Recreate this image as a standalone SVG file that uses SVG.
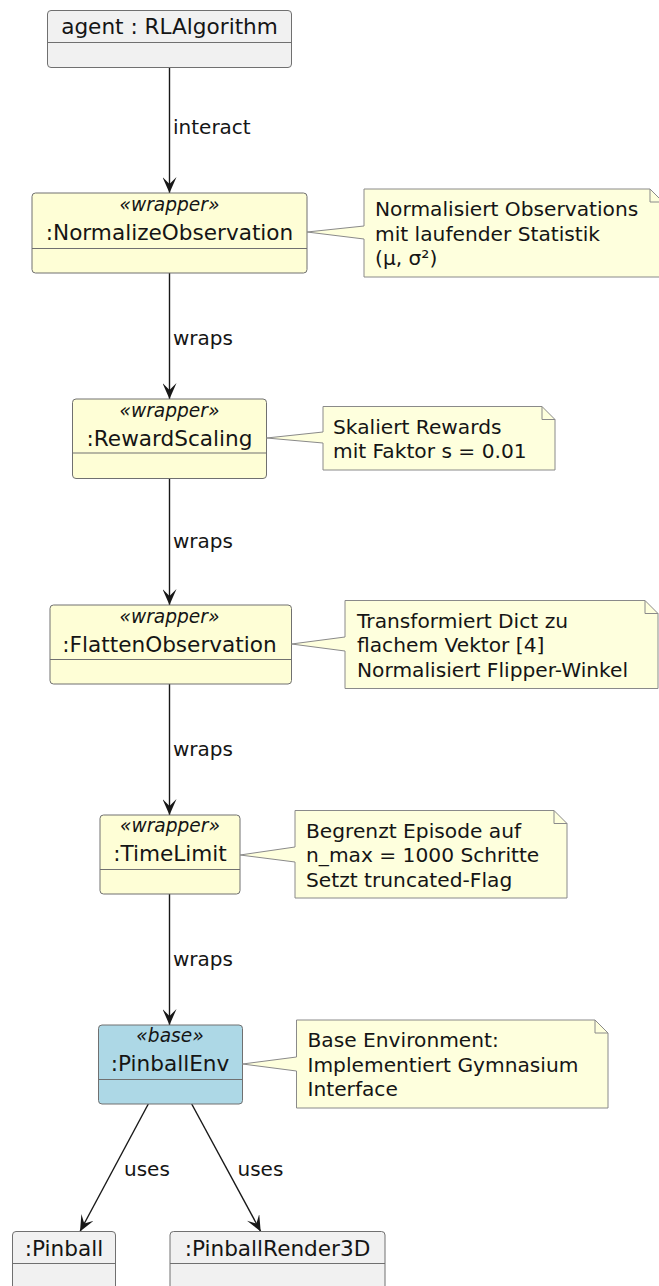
<svg xmlns="http://www.w3.org/2000/svg" width="659" height="1286" viewBox="0 0 659 1286">
  <style>
    .box{stroke:#707070;stroke-width:1}
    .gray{fill:#F1F1F1}
    .wrap{fill:#FEFED6}
    .base{fill:#ADD8E6}
    .sep{stroke:#707070;stroke-width:1;fill:none}
    .note{fill:#FEFFDD;stroke:#8a8a8a;stroke-width:1}
    .fold{fill:none;stroke:#8a8a8a;stroke-width:1}
    text{font-family:"DejaVu Sans","Liberation Sans",sans-serif;fill:#151515}
    .nm{font-size:21.6px;text-anchor:middle}
    .st{font-size:18.6px;font-style:italic;text-anchor:middle}
    .nt{font-size:20.2px}
    .lb{font-size:20px}
    .edge{stroke:#181818;stroke-width:1.4;fill:none}
  </style>
  <defs>
    <marker id="head" markerUnits="userSpaceOnUse" viewBox="0 0 16 14" refX="16" refY="7" markerWidth="16" markerHeight="14" orient="auto">
      <path d="M16,7 L0,0 L7,7 L0,14 Z" fill="#181818"/>
    </marker>
  </defs>

  <!-- connectors -->
  <g id="edges">
    <path class="edge" d="M169.5,67.5 V193" marker-end="url(#head)"/>
    <text class="lb" x="173" y="133.5">interact</text>
    <path class="edge" d="M169.5,273 V399" marker-end="url(#head)"/>
    <text class="lb" x="173" y="344.5">wraps</text>
    <path class="edge" d="M169.5,478.5 V605" marker-end="url(#head)"/>
    <text class="lb" x="173" y="547.5">wraps</text>
    <path class="edge" d="M169.5,684 V815" marker-end="url(#head)"/>
    <text class="lb" x="173" y="755.5">wraps</text>
    <path class="edge" d="M169.5,894 V1025" marker-end="url(#head)"/>
    <text class="lb" x="173" y="965.5">wraps</text>
    <path class="edge" d="M148.3,1104 L80,1231.5" marker-end="url(#head)"/>
    <text class="lb" x="124" y="1176">uses</text>
    <path class="edge" d="M191.7,1104 L260.7,1231.5" marker-end="url(#head)"/>
    <text class="lb" x="237.5" y="1176">uses</text>
  </g>

  <!-- objects -->
  <g id="agent">
    <rect class="box gray" x="47.5" y="10.5" width="244" height="57" rx="3.5"/>
    <path class="sep" d="M47.5,42.5 H291.5"/>
    <text class="nm" x="169.5" y="34">agent : RLAlgorithm</text>
  </g>

  <g id="normalizeObservation">
    <rect class="box wrap" x="32" y="193" width="275" height="80" rx="3.5"/>
    <path class="sep" d="M32,248.5 H307"/>
    <text class="st" x="169.5" y="211">«wrapper»</text>
    <text class="nm" x="169.5" y="240">:NormalizeObservation</text>
  </g>

  <g id="rewardScaling">
    <rect class="box wrap" x="72.5" y="399" width="194" height="79.5" rx="3.5"/>
    <path class="sep" d="M72.5,453 H266.5"/>
    <text class="st" x="169.5" y="417">«wrapper»</text>
    <text class="nm" x="169.5" y="446">:RewardScaling</text>
  </g>

  <g id="flattenObservation">
    <rect class="box wrap" x="50" y="605" width="241.5" height="79" rx="3.5"/>
    <path class="sep" d="M50,659.5 H291.5"/>
    <text class="st" x="169.5" y="623">«wrapper»</text>
    <text class="nm" x="169.5" y="651.5">:FlattenObservation</text>
  </g>

  <g id="timeLimit">
    <rect class="box wrap" x="100" y="815" width="140" height="79" rx="3.5"/>
    <path class="sep" d="M100,869.5 H240"/>
    <text class="st" x="170" y="831.5">«wrapper»</text>
    <text class="nm" x="170" y="860.5">:TimeLimit</text>
  </g>

  <g id="pinballEnv">
    <rect class="box base" x="98.5" y="1025" width="144" height="79" rx="3.5"/>
    <path class="sep" d="M98.5,1079.5 H242.5"/>
    <text class="st" x="170" y="1042">«base»</text>
    <text class="nm" x="170" y="1071">:PinballEnv</text>
  </g>

  <g id="pinball">
    <rect class="box gray" x="12.5" y="1231.5" width="103" height="62" rx="3.5"/>
    <path class="sep" d="M12.5,1263.5 H115.5"/>
    <text class="nm" x="64" y="1255.5">:Pinball</text>
  </g>

  <g id="pinballRender3D">
    <rect class="box gray" x="170" y="1231.5" width="215" height="62" rx="3.5"/>
    <path class="sep" d="M170,1263.5 H385"/>
    <text class="nm" x="277.5" y="1255.5">:PinballRender3D</text>
  </g>

  <!-- notes -->
  <g id="noteNormalize">
    <path class="note" d="M364,189 H650 L663,202 V277 H364 V239 L307,232 L364,226 Z"/>
    <path class="fold" d="M650,189 V202 H663"/>
    <text class="nt" x="375" y="216">Normalisiert Observations</text>
    <text class="nt" x="375" y="240.5">mit laufender Statistik</text>
    <text class="nt" x="375" y="265">(μ, σ²)</text>
  </g>

  <g id="noteReward">
    <path class="note" d="M323,406.5 H542 L555,419.5 V470 H323 V443 L266.5,438 L323,432 Z"/>
    <path class="fold" d="M542,406.5 V419.5 H555"/>
    <text class="nt" x="333" y="433.5">Skaliert Rewards</text>
    <text class="nt" x="333" y="458">mit Faktor s = 0.01</text>
  </g>

  <g id="noteFlatten">
    <path class="note" d="M345,600.5 H645 L658,613.5 V688.5 H345 V651 L291.5,644 L345,637 Z"/>
    <path class="fold" d="M645,600.5 V613.5 H658"/>
    <text class="nt" x="357" y="627.5">Transformiert Dict zu</text>
    <text class="nt" x="357" y="652">flachem Vektor [4]</text>
    <text class="nt" x="357" y="676.5">Normalisiert Flipper-Winkel</text>
  </g>

  <g id="noteTimeLimit">
    <path class="note" d="M295,810.5 H554 L567,823.5 V898 H295 V862 L240,855 L295,847 Z"/>
    <path class="fold" d="M554,810.5 V823.5 H567"/>
    <text class="nt" x="306" y="837.5">Begrenzt Episode auf</text>
    <text class="nt" x="306" y="862">n_max = 1000 Schritte</text>
    <text class="nt" x="306" y="886.5">Setzt truncated-Flag</text>
  </g>

  <g id="noteEnv">
    <path class="note" d="M296.5,1020 H595 L608,1033 V1108 H296.5 V1071 L242.5,1064 L296.5,1057 Z"/>
    <path class="fold" d="M595,1020 V1033 H608"/>
    <text class="nt" x="307.5" y="1047">Base Environment:</text>
    <text class="nt" x="307.5" y="1071.5">Implementiert Gymnasium</text>
    <text class="nt" x="307.5" y="1096">Interface</text>
  </g>
</svg>
